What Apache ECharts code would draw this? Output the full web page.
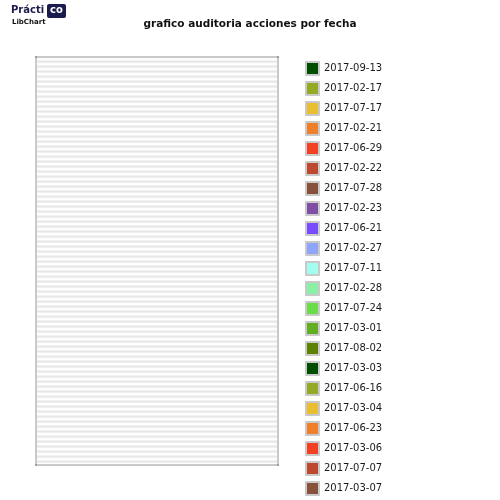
<!DOCTYPE html>
<html>
<head>
<meta charset="utf-8">
<script src="https://cdn.jsdelivr.net/npm/echarts@6/dist/echarts.min.js"></script>
<style>html,body{margin:0;padding:0;background:#fff;}#c{width:500px;height:500px;}</style>
</head>
<body>
<div id="c"></div>
<script>
var titleText = 'grafico auditoria acciones por fecha';
var categories = ['2017-09-13','2017-02-17','2017-07-17','2017-02-21','2017-06-29','2017-02-22','2017-07-28','2017-02-23','2017-06-21','2017-02-27','2017-07-11','2017-02-28','2017-07-24','2017-03-01','2017-08-02','2017-03-03','2017-06-16','2017-03-04','2017-06-23','2017-03-06','2017-07-07','2017-03-07'];
var values = [0,0,0,0,0,0,0,0,0,0,0,0,0,0,0,0,0,0,0,0,0,0];
var palette = ['rgb(2,78,0)','rgb(148,170,36)','rgb(233,191,49)','rgb(240,127,41)','rgb(243,63,34)','rgb(190,71,47)','rgb(135,81,60)','rgb(128,78,162)','rgb(121,75,255)','rgb(142,165,250)','rgb(162,254,239)','rgb(137,240,166)','rgb(104,221,71)','rgb(98,174,35)','rgb(93,129,1)'];
var stripeColors = ['rgb(242,242,242)','rgb(231,231,231)','rgb(239,239,239)','rgb(253,253,253)','rgb(254,254,254)'];

var pc = document.createElement('canvas');
pc.width = 4; pc.height = stripeColors.length;
var pctx = pc.getContext('2d');
stripeColors.forEach(function (c, i) { pctx.fillStyle = c; pctx.fillRect(0, i, 4, 1); });

var chart = echarts.init(document.getElementById('c'), null, {renderer: 'canvas'});
var font = 'DejaVu Sans';
var boxColor = 'rgb(201,201,201)', cornerColor = 'rgb(158,158,158)';
var x1 = 35, y1 = 56, x2 = 278, y2 = 465;
function corners(ax1, ay1, ax2, ay2) {
  return [[ax1, ay1], [ax2 - 1, ay1], [ax1, ay2 - 1], [ax2 - 1, ay2 - 1]].map(function (p) {
    return {type: 'rect', shape: {x: p[0], y: p[1], width: 2, height: 2}, style: {fill: cornerColor}, silent: true};
  });
}
var graphics = [
  {type: 'rect', shape: {x: x1, y: y1, width: x2 - x1 + 1, height: y2 - y1 + 1}, style: {fill: boxColor}, silent: true, z: 0},
  {type: 'rect', shape: {x: x1 + 2, y: y1 + 2, width: x2 - x1 - 3, height: y2 - y1 - 3}, style: {fill: {image: pc, repeat: 'repeat'}}, silent: true, z: 0}
].concat(corners(x1, y1, x2, y2)).concat([
  {type: 'text', x: 11, y: 5, style: {text: 'Prácti', fontFamily: font, fontSize: 10, fontWeight: 'bold', fill: '#1b1b4d', verticalAlign: 'top'}, silent: true},
  {type: 'rect', shape: {x: 47, y: 4, width: 19, height: 14, r: 2}, style: {fill: '#1b1b4d'}, silent: true},
  {type: 'text', x: 56.5, y: 5.5, style: {text: 'co', fontFamily: font, fontSize: 10, fontWeight: 'bold', fill: '#ffffff', verticalAlign: 'top', align: 'center'}, silent: true},
  {type: 'text', x: 12, y: 18.5, style: {text: 'LibChart', fontFamily: font, fontSize: 7, fontWeight: 'bold', fill: '#111', verticalAlign: 'top'}, silent: true}
]);

chart.setOption({
  animation: false,
  color: palette,
  title: {text: titleText, left: 'center', top: 14, textStyle: {fontFamily: font, fontSize: 10.5, fontWeight: 'bold', color: '#111'}},
  legend: {
    orient: 'vertical', left: 305, top: 61, icon: 'rect', itemWidth: 13, itemHeight: 13, itemGap: 5, itemTextGap: 6,
    padding: 0, selectedMode: false,
    itemStyle: {borderColor: boxColor, borderWidth: 2},
    textStyle: {fontFamily: font, fontSize: 10, color: '#1a1a1a'},
    data: categories
  },
  graphic: graphics,
  series: [{
    type: 'pie', center: [156, 260], radius: [0, 100], stillShowZeroSum: false,
    label: {show: false}, labelLine: {show: false}, z: 5,
    data: categories.map(function (c, i) { return {name: c, value: values[i]}; })
  }]
});
</script>
</body>
</html>
